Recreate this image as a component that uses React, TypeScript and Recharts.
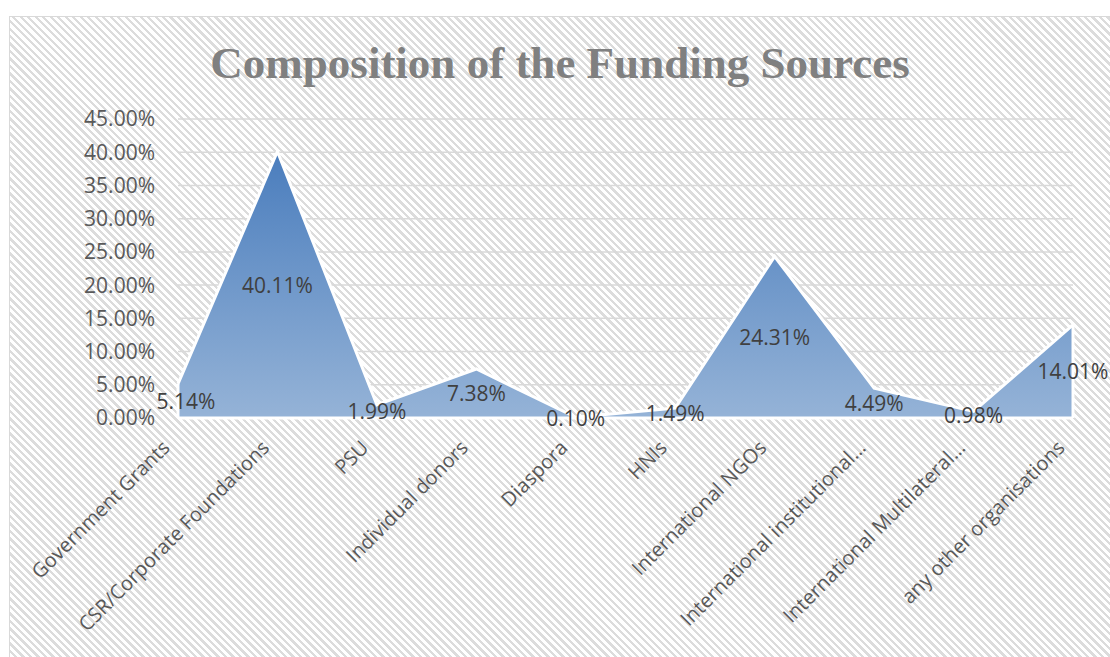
import React from 'react';
import { AreaChart, Area, XAxis, YAxis, CartesianGrid, LabelList, ReferenceLine } from 'recharts';

const categories = [
  'Government Grants',
  'CSR/Corporate Foundations',
  'PSU',
  'Individual donors',
  'Diaspora',
  'HNIs',
  'International NGOs',
  'International institutional…',
  'International Multilateral…',
  'any other organisations',
];
const shares = [5.14, 40.11, 1.99, 7.38, 0.1, 1.49, 24.31, 4.49, 0.98, 14.01];
const yTicks = [0, 5, 10, 15, 20, 25, 30, 35, 40, 45];
const title = 'Composition of the Funding Sources';

const data = categories.map((name, i) => ({ name, value: shares[i] }));

const CHART_W = 1100;
const CHART_H = 641;
const MARGIN = { top: 102, right: 37, bottom: 40, left: 0 };
const XAXIS_H = 200;
const BASE_Y = CHART_H - MARGIN.bottom - XAXIS_H;
const FONT = '"Open Sans", sans-serif';
const TEXT = '#595959';

const fmt = (v: number) => `${v.toFixed(2)}%`;

const XTick = (props: any) => {
  const { x, y, payload } = props;
  return (
    <g transform={`translate(${x - 7},${y + 23})`}>
      <text
        x={0}
        y={0}
        transform="rotate(-45)"
        textAnchor="end"
        fill={TEXT}
        fontSize={20}
        fontFamily={FONT}
      >
        {payload.value}
      </text>
    </g>
  );
};

const MidLabel = (props: any) => {
  const { x, y, value, index } = props;
  const my = (y + BASE_Y) / 2;
  return (
    <text
      x={x}
      y={my}
      dx={index === 0 ? 8 : 0}
      textAnchor="middle"
      dominantBaseline="central"
      fill="#404040"
      fontSize={21}
      fontFamily={FONT}
    >
      {fmt(value)}
    </text>
  );
};

export default function App() {
  const first = data[0];
  const last = data[data.length - 1];
  return (
    <div
      style={{
        position: 'fixed',
        left: 9,
        top: 16,
        width: 1110,
        height: 660,
        boxSizing: 'border-box',
        border: '1px solid #d9d9d9',
        background:
          'repeating-linear-gradient(45deg, #dcdcdc 0px, #dcdcdc 2.4px, #ffffff 2.4px, #ffffff 5.3px)',
        overflow: 'hidden',
      }}
    >
      <div
        style={{
          position: 'absolute',
          left: 0,
          width: 1100,
          top: 20,
          textAlign: 'center',
          fontFamily: '"Liberation Serif", serif',
          fontWeight: 'bold',
          fontSize: 45,
          lineHeight: '52px',
          color: '#808080',
        }}
      >
        {title}
      </div>
      <div style={{ position: 'absolute', left: 0, top: 0 }}>
        <AreaChart width={CHART_W} height={CHART_H} data={data} margin={MARGIN}>
          <defs>
            <linearGradient id="areaFill" x1="0" y1="0" x2="0" y2="1">
              <stop offset="0%" stopColor="#4a7dbd" />
              <stop offset="100%" stopColor="#95b3d7" />
            </linearGradient>
          </defs>
          <CartesianGrid vertical={false} stroke="#d9d9d9" strokeWidth={1.5} />
          <XAxis
            dataKey="name"
            height={XAXIS_H}
            interval={0}
            tick={<XTick />}
            tickLine={false}
            axisLine={{ stroke: '#ffffff', strokeWidth: 3 }}
          />
          <YAxis
            width={168}
            domain={[0, 45]}
            ticks={yTicks}
            tickFormatter={fmt}
            tickLine={false}
            axisLine={false}
            tickMargin={17}
            tick={{ fill: TEXT, fontSize: 21, fontFamily: FONT }}
          />
          <Area
            type="linear"
            dataKey="value"
            stroke="#ffffff"
            strokeWidth={3}
            fill="url(#areaFill)"
            fillOpacity={1}
            isAnimationActive={false}
            dot={false}
            activeDot={false}
          >
            <LabelList dataKey="value" content={<MidLabel />} />
          </Area>
          <ReferenceLine
            segment={[
              { x: first.name, y: 0 },
              { x: first.name, y: first.value },
            ]}
            stroke="#ffffff"
            strokeWidth={3}
          />
          <ReferenceLine
            segment={[
              { x: last.name, y: 0 },
              { x: last.name, y: last.value },
            ]}
            stroke="#ffffff"
            strokeWidth={3}
          />
        </AreaChart>
      </div>
    </div>
  );
}
